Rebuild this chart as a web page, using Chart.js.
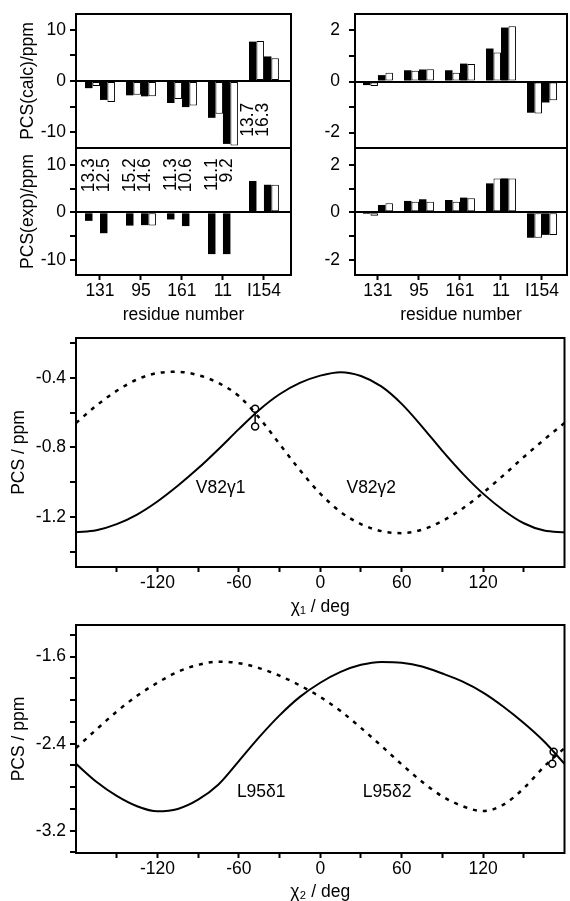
<!DOCTYPE html>
<html>
<head>
<meta charset="utf-8">
<script src="https://cdn.jsdelivr.net/npm/chart.js@4.4.1/dist/chart.umd.min.js"></script>
<style>
body { margin: 0; background: #fff; }
#page { position: relative; width: 570px; height: 901px; overflow: hidden; background: #fff; }
canvas { position: absolute; }
</style>
</head>
<body>
<div id="page">
<canvas id="aTop" width="300" height="150" style="left:0;top:0"></canvas>
<canvas id="aBot" width="300" height="182" style="left:0;top:148px"></canvas>
<canvas id="bTop" width="275" height="150" style="left:295px;top:0"></canvas>
<canvas id="bBot" width="275" height="182" style="left:295px;top:148px"></canvas>
<canvas id="cChart" width="570" height="300" style="left:0;top:320px"></canvas>
<canvas id="dChart" width="570" height="295" style="left:0;top:610px"></canvas>
</div>
<script>
// residues (x categories of panels a and b)
const residues = ['131', '95', '161', '11', 'I154'];

// panel a, calculated PCS (black / white pairs for the two methyls)
const calcA_black1 = [-1.4, -2.8, -4.3, -7.2, 7.7];
const calcA_white1 = [-1.0, -2.7, -3.5, -6.4, 7.8];
const calcA_black2 = [-3.7, -3.0, -5.1, -12.3, 4.8];
const calcA_white2 = [-4.1, -3.0, -4.8, -12.6, 4.45];

// panel a, experimental PCS
const expA_black1 = [-1.8, -2.8, -1.5, -8.8, 6.6];
const expA_white1 = [null, null, null, null, null];
const expA_black2 = [-4.4, -2.7, -2.9, -8.8, 5.8];
const expA_white2 = [null, -2.8, null, null, 5.8];

// distances written over the bars of panel a
const distA1 = ['13.3', '15.2', '11.3', '11.1', '13.7'];
const distA2 = ['12.5', '14.6', '10.6', '9.2', '16.3'];

// panel b, calculated PCS
const calcB_black1 = [-0.14, 0.44, 0.44, 1.29, -1.22];
const calcB_white1 = [-0.18, 0.42, 0.34, 1.13, -1.25];
const calcB_black2 = [0.25, 0.47, 0.70, 2.11, -0.82];
const calcB_white2 = [0.34, 0.48, 0.68, 2.16, -0.73];

// panel b, experimental PCS
const expB_black1 = [-0.07, 0.48, 0.52, 1.22, -1.07];
const expB_white1 = [-0.14, 0.45, 0.45, 1.43, -1.07];
const expB_black2 = [0.31, 0.55, 0.62, 1.43, -0.95];
const expB_white2 = [0.38, 0.45, 0.59, 1.43, -0.95];

// panels c and d: dihedral angle (deg) and PCS curves (ppm)
const chiDeg = [-180, -165, -150, -135, -120, -105, -90, -75, -60, -45, -30, -15, 0,
                15, 30, 45, 60, 75, 90, 105, 120, 135, 150, 165, 180];
const v82g1 = [-1.287, -1.275, -1.24, -1.185, -1.11, -1.02, -0.92, -0.81, -0.695, -0.585, -0.495, -0.43, -0.388,
               -0.368, -0.39, -0.45, -0.55, -0.68, -0.82, -0.95, -1.065, -1.16, -1.235, -1.277, -1.287];
const v82g2 = [-0.66, -0.56, -0.475, -0.41, -0.373, -0.366, -0.385, -0.43, -0.505, -0.63, -0.78, -0.93, -1.065,
               -1.17, -1.24, -1.28, -1.292, -1.272, -1.222, -1.15, -1.06, -0.96, -0.855, -0.755, -0.66];
const l95d1 = [-2.585, -2.75, -2.88, -2.975, -3.022, -3.0, -2.915, -2.775, -2.56, -2.34, -2.14, -1.97, -1.84,
               -1.74, -1.675, -1.648, -1.655, -1.69, -1.755, -1.83, -1.93, -2.06, -2.21, -2.38, -2.585];
const l95d2 = [-2.44, -2.27, -2.105, -1.96, -1.84, -1.74, -1.675, -1.646, -1.66, -1.705, -1.775, -1.865, -1.97,
               -2.10, -2.255, -2.42, -2.59, -2.75, -2.885, -2.975, -3.02, -2.96, -2.81, -2.61, -2.44];
// measured points joined by a short line
const v82Exp = [{x: -48, y: -0.578}, {x: -48, y: -0.68}];
const l95Exp = [{x: 172, y: -2.475}, {x: 171, y: -2.585}];

// axis ticks
const barTicksA = [-10, -5, 0, 5, 10];
const barLabelsA = ['-10', '', '0', '', '10'];
const barTicksB = [-2, -1, 0, 1, 2];
const barLabelsB = ['-2', '', '0', '', '2'];
const chiTicks = [-150, -120, -90, -60, -30, 0, 30, 60, 90, 120, 150];
const chiLabels = ['', '-120', '', '-60', '', '0', '', '60', '', '120', ''];
const cTicks = [-1.4, -1.2, -1.0, -0.8, -0.6, -0.4, -0.2];
const cLabels = ['', '-1.2', '', '-0.8', '', '-0.4', ''];
const dTicks = [-3.4, -3.2, -3.0, -2.8, -2.6, -2.4, -2.2, -2.0, -1.8, -1.6, -1.4];
const dLabels = ['', '-3.2', '', '', '', '-2.4', '', '', '', '-1.6', ''];

const FAMILY = 'Liberation Sans, Arial, sans-serif';
const tickFont = { family: FAMILY, size: 17.5 };

// box round the plot area
const framePlugin = {
    id: 'frame',
    afterDatasetsDraw(chart) {
        const { ctx, chartArea: a } = chart;
        ctx.save();
        ctx.strokeStyle = '#000';
        ctx.lineWidth = 2;
        ctx.strokeRect(a.left, a.top, a.right - a.left, a.bottom - a.top);
        ctx.restore();
    }
};

// free text: panel letters, curve names, distances
const textPlugin = {
    id: 'texts',
    afterDraw(chart, args, opts) {
        const ctx = chart.ctx;
        const a = chart.chartArea;
        (opts.items || []).forEach(it => {
            let x, y;
            if (it.at) {
                x = chart.scales.x.getPixelForValue(it.at[0]) + (it.dx || 0);
                y = chart.scales.y.getPixelForValue(it.at[1]) + (it.dy || 0);
            } else {
                x = a.left + it.dx;
                y = a.top + it.dy;
            }
            ctx.save();
            ctx.fillStyle = '#000';
            ctx.font = it.font || ('17.5px ' + FAMILY);
            ctx.translate(x, y);
            if (it.rotate) ctx.rotate(it.rotate);
            ctx.textAlign = it.align || 'left';
            ctx.textBaseline = it.baseline || 'alphabetic';
            ctx.fillText(it.text, 0, 0);
            ctx.restore();
        });
    }
};

function yScale(min, max, values, labels, width, labelPad, title, titlePad, zeroLine) {
    return {
        type: 'linear', position: 'left', min: min, max: max,
        afterBuildTicks: s => { s.ticks = values.map(v => ({ value: v })); },
        afterFit: s => { s.width = width; s.paddingTop = 0; s.paddingBottom = 0; },
        ticks: { callback: (v, i) => labels[i], font: tickFont, color: '#000', padding: labelPad, autoSkip: false },
        grid: {
            drawOnChartArea: zeroLine,
            color: c => (c.tick && c.tick.value === 0) ? '#000' : 'rgba(0,0,0,0)',
            lineWidth: 2, drawTicks: true, tickLength: 6, tickWidth: 2, tickColor: '#000'
        },
        border: { display: false },
        title: { display: !!title, text: title || '', font: tickFont, color: '#000', padding: { top: titlePad, bottom: 0 } }
    };
}

function xScale(min, max, values, labels, show, height, title, titlePad) {
    return {
        type: 'linear', position: 'bottom', min: min, max: max, display: show,
        offset: false,
        afterBuildTicks: s => { s.ticks = values.map(v => ({ value: v })); },
        afterFit: s => { if (show) s.height = height; s.paddingLeft = 0; s.paddingRight = 0; },
        ticks: { callback: (v, i) => labels[i], font: tickFont, color: '#000', padding: 1, maxRotation: 0, autoSkip: false },
        grid: { offset: false, drawOnChartArea: false, drawTicks: true, tickLength: 5, tickWidth: 2, tickColor: '#000' },
        border: { display: false },
        title: { display: show, text: title, font: tickFont, color: '#000', padding: { top: 0, bottom: titlePad } }
    };
}

function barSets(series) {
    return series.map((s, k) => ({
        data: s.map((v, i) => ({ x: i + 1, y: v })),
        backgroundColor: k % 2 === 0 ? '#000' : '#fff',
        borderColor: '#000',
        borderWidth: k % 2 === 0 ? 0 : 1,
        borderSkipped: false,
        categoryPercentage: 0.73,
        barPercentage: 1
    }));
}

function barChart(id, xr, yMin, yMax, ticks, labels, yWidth, yPad, title, titlePad, series, showX, pad, items) {
    return new Chart(document.getElementById(id), {
        type: 'bar',
        data: { datasets: barSets(series) },
        options: {
            responsive: false, animation: false,
            layout: { padding: pad },
            plugins: { legend: { display: false }, tooltip: { enabled: false }, texts: { items: items } },
            scales: {
                x: xScale(xr[0], xr[1], [1, 2, 3, 4, 5], residues, showX, 55, 'residue number', 4.5),
                y: yScale(yMin, yMax, ticks, labels, yWidth, yPad, title, titlePad, true)
            }
        },
        plugins: [framePlugin, textPlugin]
    });
}

const letterFont = '32px ' + FAMILY;
const up = -Math.PI / 2;

// panel a
barChart('aTop', [0.415, 5.66], -13.1, 13.1, barTicksA, barLabelsA, 76, 4, 'PCS(calc)/ppm', 18,
    [calcA_black1, calcA_white1, calcA_black2, calcA_white2], false,
    { top: 14, right: 9, bottom: 2, left: 0 },
    [
        { text: 'a', dx: 16, dy: 39, font: letterFont },
        { text: distA1[4], at: [5, -4.24], dx: -16, rotate: up, align: 'right', baseline: 'middle' },
        { text: distA2[4], at: [5, -4.24], dx: -1, rotate: up, align: 'right', baseline: 'middle' }
    ]);

barChart('aBot', [0.415, 5.66], -13.2, 13.54, barTicksA, barLabelsA, 76, 4, 'PCS(exp)/ppm', 18,
    [expA_black1, expA_white1, expA_black2, expA_white2], true,
    { top: 0, right: 9, bottom: 0, left: 0 },
    [0, 1, 2, 3].flatMap(i => [
        { text: distA1[i], at: [i + 1, 11.4], dx: -11, rotate: up, align: 'right', baseline: 'middle' },
        { text: distA2[i], at: [i + 1, 11.4], dx: 4, rotate: up, align: 'right', baseline: 'middle' }
    ]));

// panel b
barChart('bTop', [0.44, 5.61], -2.6, 2.64, barTicksB, barLabelsB, 60, 9, '', 0,
    [calcB_black1, calcB_white1, calcB_black2, calcB_white2], false,
    { top: 14, right: 3, bottom: 2, left: 0 },
    [{ text: 'b', dx: 13, dy: 41, font: letterFont }]);

barChart('bBot', [0.44, 5.61], -2.64, 2.71, barTicksB, barLabelsB, 60, 9, '', 0,
    [expB_black1, expB_white1, expB_black2, expB_white2], true,
    { top: 0, right: 3, bottom: 0, left: 0 },
    []);

// panels c and d
function curveChart(id, solid, dashed, points, yMin, yMax, ticks, labels, xTitle, pad, xHeight, items) {
    return new Chart(document.getElementById(id), {
        type: 'line',
        data: {
            datasets: [
                { data: chiDeg.map((x, i) => ({ x: x, y: solid[i] })), borderColor: '#000', borderWidth: 2,
                  pointRadius: 0, cubicInterpolationMode: 'monotone', fill: false },
                { data: chiDeg.map((x, i) => ({ x: x, y: dashed[i] })), borderColor: '#000', borderWidth: 2.5,
                  borderDash: [4, 6], pointRadius: 0, cubicInterpolationMode: 'monotone', fill: false },
                { data: points, borderColor: '#000', borderWidth: 1.5, pointRadius: 3.5, pointBorderWidth: 1.5,
                  pointBackgroundColor: '#fff', pointBorderColor: '#000', fill: false }
            ]
        },
        options: {
            responsive: false, animation: false,
            layout: { padding: pad },
            plugins: { legend: { display: false }, tooltip: { enabled: false }, texts: { items: items } },
            scales: {
                x: xScale(-180, 180, chiTicks, chiLabels, true, xHeight, xTitle, 2.5),
                y: yScale(yMin, yMax, ticks, labels, 76, 4, 'PCS / ppm', 8.5, false)
            }
        },
        plugins: [framePlugin, textPlugin]
    });
}

curveChart('cChart', v82g1, v82g2, v82Exp, -1.486, -0.172, cTicks, cLabels, 'χ₁ / deg',
    { top: 18, right: 1, bottom: 0, left: 0 }, 53,
    [
        { text: 'c', dx: 17, dy: 39, font: letterFont },
        { text: 'V82γ1', at: [-73.4, -1.033], align: 'center', baseline: 'middle' },
        { text: 'V82γ2', at: [37.6, -1.033], align: 'center', baseline: 'middle' }
    ]);

curveChart('dChart', l95d1, l95d2, l95Exp, -3.405, -1.309, dTicks, dLabels, 'χ₂ / deg',
    { top: 15, right: 1, bottom: 0, left: 0 }, 52,
    [
        { text: 'd', dx: 17, dy: 40, font: letterFont },
        { text: 'L95δ1', at: [-43.5, -2.847], align: 'center', baseline: 'middle' },
        { text: 'L95δ2', at: [49.3, -2.847], align: 'center', baseline: 'middle' }
    ]);
</script>
</body>
</html>
